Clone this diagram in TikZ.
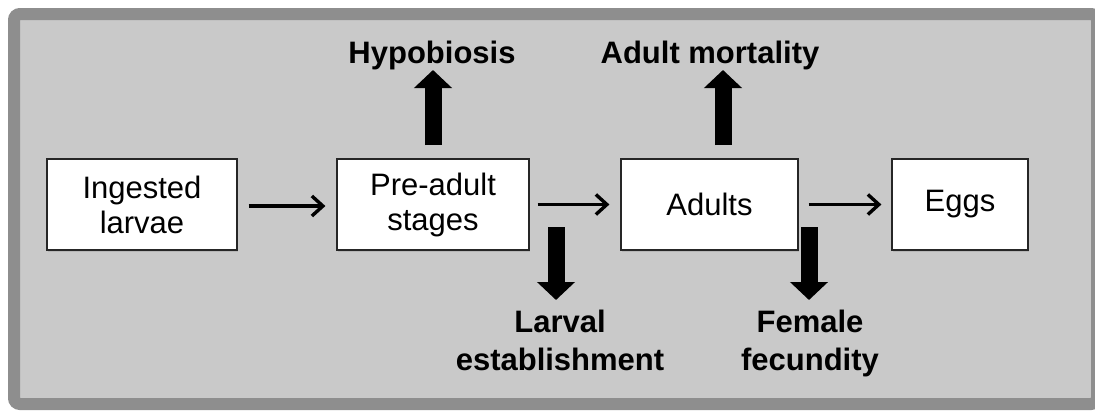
\documentclass[tikz,border=0pt]{standalone}
\usepackage{fontspec}
\setmainfont{Liberation Sans}
\usetikzlibrary{arrows.meta,shadows}
\definecolor{framegray}{RGB}{142,142,142}
\definecolor{innergray}{RGB}{201,201,201}
\tikzset{
  stagebox/.style={draw=black!85, line width=1.2pt, fill=white, inner sep=0pt,
    align=center, font=\fontsize{31}{35}\selectfont,
    drop shadow={opacity=0.25, shadow xshift=1pt, shadow yshift=-1.5pt}},
  flowarrow/.style={line width=3.4pt, -{Straight Barb[length=11pt,width=20pt,line width=3.4pt]}},
  bigarrow/.style={line width=17pt, -{Triangle[length=18pt,width=37pt]}},
  effect/.style={font=\bfseries\fontsize{31}{38}\selectfont, align=center, inner sep=0pt, anchor=base}
}
\begin{document}
\begin{tikzpicture}[x=1pt,y=-1pt]
\useasboundingbox (0,0) rectangle (1095,410);
\draw[line width=12pt, draw=framegray, fill=innergray, rounded corners=6pt] (14,14) rectangle (1097,404);

\node[stagebox, minimum width=190pt, minimum height=91pt] (ing) at (142,204.5) {Ingested\\larvae};
\node[stagebox, minimum width=192pt, minimum height=91pt] (pre) at (433,204.5) {Pre-adult\\stages};
\node[stagebox, minimum width=177pt, minimum height=91pt] (adu) at (709.5,204.5) {Adults};
\node[stagebox, minimum width=136pt, minimum height=91pt] (egg) at (960,204.5) {Eggs};

\draw[flowarrow] ([xshift=11pt,yshift=-1.5pt]ing.east) -- ([xshift=-11pt,yshift=-1.5pt]pre.west);
\draw[flowarrow] ([xshift=8pt,yshift=0pt]pre.east) -- ([xshift=-11pt,yshift=0pt]adu.west);
\draw[flowarrow] ([xshift=10pt,yshift=0pt]adu.east) -- ([xshift=-10pt,yshift=0pt]egg.west);

\node[effect] (hyp) at (432,63) {Hypobiosis};
\node[effect] (mort) at (710,63) {Adult mortality};
\node[effect] (larv) at (560,370) {Larval\\establishment};
\node[effect] (fec) at (810,370) {Female\\fecundity};

\coordinate (hypS) at (433,145);
\coordinate (hypT) at (433,70);
\coordinate (mortS) at (723,145);
\coordinate (mortT) at (723,70);
\coordinate (larvS) at (556,227);
\coordinate (larvT) at (556,300);
\coordinate (fecS) at (809,227);
\coordinate (fecT) at (809,300);

\draw[bigarrow] (hypS) -- (hypT);
\draw[bigarrow] (mortS) -- (mortT);
\draw[bigarrow] (larvS) -- (larvT);
\draw[bigarrow] (fecS) -- (fecT);
\end{tikzpicture}
\end{document}
